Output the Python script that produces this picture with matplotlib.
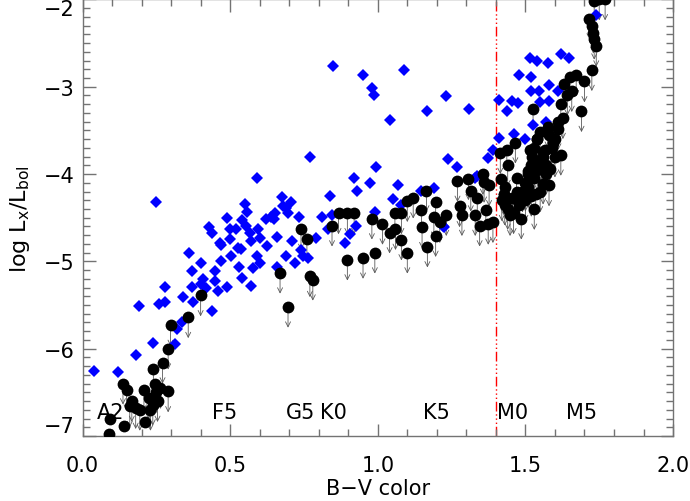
import matplotlib
matplotlib.use("Agg")
import matplotlib.pyplot as plt

# Detections (blue diamonds): B-V colour, log Lx/Lbol
det_bv = [0.039, 0.119, 0.191, 0.18, 0.238, 0.249, 0.259, 0.28, 0.28, 0.313, 0.32, 0.337, 0.34,
          0.36, 0.37, 0.37, 0.375, 0.40, 0.40, 0.408, 0.417, 0.43, 0.44, 0.44, 0.447, 0.45, 0.46,
          0.465, 0.47, 0.47, 0.49, 0.49, 0.498, 0.50, 0.503, 0.52, 0.525, 0.53, 0.537, 0.54, 0.54,
          0.55, 0.555, 0.557, 0.566, 0.57, 0.57, 0.578, 0.59, 0.59, 0.596, 0.60, 0.60, 0.62, 0.626,
          0.638, 0.647, 0.653, 0.66, 0.66, 0.674, 0.68, 0.69, 0.69, 0.697, 0.706, 0.71, 0.72, 0.733,
          0.74, 0.748, 0.763, 0.77, 0.79, 0.812, 0.83, 0.837, 0.845, 0.85, 0.89, 0.905, 0.92, 0.926,
          0.93, 0.95, 0.972, 0.98, 0.986, 0.99, 0.994, 1.04, 1.05, 1.07, 1.08, 1.088, 1.148, 1.168,
          1.19, 1.23, 1.237, 1.22, 1.27, 1.31, 1.337, 1.374, 1.39, 1.41, 1.41, 1.436, 1.455, 1.46,
          1.475, 1.478, 1.497, 1.516, 1.518, 1.52, 1.525, 1.538, 1.545, 1.55, 1.575, 1.58, 1.58,
          1.57, 1.62, 1.647, 1.61, 1.74, 1.225, 1.33]
det_lx = [-6.26, -6.27, -5.51, -6.07, -5.93, -4.32, -5.49, -5.46, -5.29, -5.95, -5.77, -5.69, -5.41,
          -4.90, -5.11, -5.29, -5.46, -5.02, -5.26, -5.20, -5.30, -4.61, -4.68, -5.57, -5.11, -5.22,
          -5.34, -4.79, -5.00, -4.81, -4.50, -5.29, -4.63, -4.74, -4.94, -4.63, -4.85, -5.06, -4.86,
          -4.53, -5.19, -4.34, -4.59, -4.43, -4.67, -4.77, -5.28, -5.08, -4.04, -4.94, -4.63, -5.02,
          -4.73, -4.51, -4.82, -4.49, -4.51, -4.45, -4.72, -5.06, -4.26, -4.37, -4.39, -4.94, -4.45,
          -4.32, -4.77, -5.02, -4.49, -4.87, -4.94, -4.96, -3.80, -4.73, -4.49, -4.63, -4.25, -4.47,
          -2.76, -4.79, -4.69, -4.04, -4.59, -4.19, -2.87, -4.10, -3.02, -3.09, -4.43, -3.92, -3.38,
          -4.29, -4.13, -4.35, -2.81, -4.19, -3.28, -4.16, -3.11, -3.83, -4.59, -3.92, -3.25, -4.02,
          -3.82, -3.72, -3.15, -3.59, -3.28, -3.16, -3.54, -3.19, -2.87, -3.60, -2.67, -2.89, -3.05,
          -3.44, -2.71, -3.05, -3.17, -2.73, -2.98, -3.16, -3.40, -2.63, -2.67, -3.05, -2.18, -4.61,
          -4.05]

# Upper limits (black circles with arrows)
ul_bv = [0.09, 0.092, 0.137, 0.149, 0.142, 0.16, 0.167, 0.18, 0.194, 0.208, 0.21, 0.224, 0.23,
         0.238, 0.24, 0.245, 0.249, 0.254, 0.264, 0.271, 0.29, 0.29, 0.298, 0.358, 0.40, 0.669,
         0.696, 0.74, 0.76, 0.77, 0.78, 0.845, 0.867, 0.897, 0.897, 0.92, 0.95, 0.98, 0.99, 1.016,
         1.04, 1.058, 1.06, 1.08, 1.08, 1.10, 1.10, 1.12, 1.148, 1.15, 1.165, 1.168, 1.19, 1.196,
         1.196, 1.21, 1.232, 1.27, 1.277, 1.285, 1.307, 1.315, 1.33, 1.337, 1.345, 1.356, 1.36,
         1.366, 1.374, 1.377, 1.39, 1.415, 1.418, 1.426, 1.43, 1.437, 1.44, 1.448, 1.456, 1.466,
         1.47, 1.475, 1.486, 1.50, 1.508, 1.515, 1.523, 1.526, 1.53, 1.535, 1.538, 1.545, 1.55,
         1.56, 1.568, 1.575, 1.58, 1.582, 1.594, 1.60, 1.612, 1.62, 1.62, 1.627, 1.63, 1.642, 1.65,
         1.657, 1.672, 1.69, 1.70, 1.725, 1.717, 1.725, 1.73, 1.733, 1.74, 1.733, 1.75, 1.77,
         1.50, 1.51, 1.52, 1.53, 1.54, 1.49, 1.50, 1.51, 1.55, 1.56, 1.57, 1.48, 1.46, 1.44,
         1.52, 1.54, 1.56, 1.58, 1.59, 1.53, 1.55, 1.57, 1.60, 1.61, 1.42, 1.43, 1.47]
ul_lx = [-6.98, -6.80, -6.40, -6.47, -6.88, -6.66, -6.60, -6.68, -6.70, -6.47, -6.84, -6.57, -6.70,
         -6.64, -6.23, -6.40, -6.50, -6.60, -6.45, -6.16, -6.49, -6.00, -5.73, -5.64, -5.39, -5.13,
         -5.52, -4.63, -4.74, -5.17, -5.21, -4.59, -4.45, -4.98, -4.45, -4.45, -4.96, -4.51, -4.90,
         -4.57, -4.67, -4.45, -4.63, -4.45, -4.75, -4.31, -4.90, -4.27, -4.41, -4.61, -4.19, -4.83,
         -4.49, -4.32, -4.71, -4.55, -4.47, -4.08, -4.37, -4.47, -4.06, -4.19, -4.47, -4.27, -4.59,
         -4.00, -4.09, -4.41, -4.57, -4.13, -4.55, -3.76, -4.06, -4.23, -4.35, -3.72, -3.90, -4.47,
         -4.27, -3.64, -4.04, -4.31, -4.51, -4.19, -3.96, -3.72, -3.80, -3.26, -4.04, -4.23, -3.60,
         -3.88, -3.52, -4.11, -3.72, -3.46, -4.13, -3.94, -3.64, -3.80, -3.48, -3.20, -3.78, -3.36,
         -2.97, -3.09, -2.89, -3.05, -2.87, -3.28, -2.94, -2.81, -2.22, -2.30, -2.38, -2.45, -2.53,
         -2.02, -2.00, -2.00,
         -4.10, -4.00, -3.90, -3.70, -3.60, -4.20, -4.30, -4.15, -3.85, -3.75, -3.90, -4.35, -4.45,
         -4.40,
         -4.25, -3.95, -3.80, -3.55, -3.70, -4.40, -4.20, -4.00, -3.60, -3.40, -4.30, -4.15, -4.20]

# Spectral type labels
sp_labels = ["A2", "F5", "G5", "K0", "K5", "M0", "M5"]
sp_bv = [0.095, 0.48, 0.74, 0.85, 1.20, 1.455, 1.69]

divider_bv = 1.4

fig = plt.figure(figsize=(6.9, 5.02), dpi=100)
ax = fig.add_axes([0.1196, 0.1295, 0.8558, 0.8697])

arrow_len = 0.19
for x, y in zip(ul_bv, ul_lx):
    ax.annotate('', xy=(x, y - arrow_len - 0.05), xytext=(x, y),
                arrowprops=dict(arrowstyle='->', color='0.35', lw=0.6,
                                shrinkA=0, shrinkB=0, mutation_scale=9),
                zorder=2)

ax.plot(det_bv, det_lx, 'D', color='#0000ff', markersize=6.5, markeredgewidth=0, zorder=3)
ax.plot(ul_bv, ul_lx, 'o', color='black', markersize=8.5, markeredgewidth=0, zorder=4)

ax.axvline(divider_bv, color='red', lw=1.0, linestyle=(0, (7, 2, 1, 2, 1, 2, 1, 2)), zorder=1)

for lab, x in zip(sp_labels, sp_bv):
    ax.text(x, -6.73, lab, fontsize=15, ha='center', va='center', zorder=5)

ax.set_xlim(0, 2.0)
ax.set_ylim(-7, -2)
ax.set_xticks([0.0, 0.5, 1.0, 1.5, 2.0])
ax.set_xticklabels(["0.0", "0.5", "1.0", "1.5", "2.0"])
ax.set_yticks([-7, -6, -5, -4, -3, -2])
ax.set_xticks([i / 10 for i in range(21)], minor=True)
ax.set_yticks([-7 + i / 10 for i in range(51)], minor=True)
ax.tick_params(which='both', direction='in', top=True, right=True, colors='0.45',
               labelcolor='black', labelsize=15)
ax.tick_params(which='major', length=9, width=1)
ax.tick_params(which='minor', length=5, width=1)
ax.tick_params(axis='x', pad=14)
ax.tick_params(axis='y', pad=6)
for s in ax.spines.values():
    s.set_color('0.45')
    s.set_linewidth(1)

ylabs = ax.get_yticklabels()
ylabs[0].set_va('bottom')
ylabs[-1].set_va('top')

ax.set_xlabel('B\u2212V color', fontsize=15, labelpad=2)
ax.set_ylabel(r'log L$_\mathregular{x}$/L$_\mathregular{bol}$', fontsize=16, labelpad=8)

fig.savefig('out.png', dpi=100)
